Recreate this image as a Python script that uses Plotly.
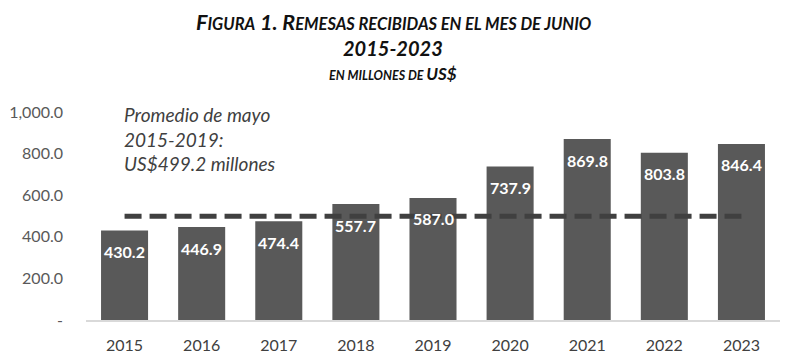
import plotly.graph_objects as go

years = ["2015", "2016", "2017", "2018", "2019", "2020", "2021", "2022", "2023"]
values = [430.2, 446.9, 474.4, 557.7, 587.0, 737.9, 869.8, 803.8, 846.4]
average = 499.2
ytick_vals = [0, 200, 400, 600, 800, 1000]
ytick_text = ["-", "200.0", "400.0", "600.0", "800.0", "1,000.0"]

FONT = "Lato"
GRAY = "#595959"

fig = go.Figure()
fig.add_trace(go.Bar(
    x=years, y=values,
    marker=dict(color=GRAY, line=dict(width=0)),
    hoverinfo="x+y",
))
fig.add_trace(go.Scatter(
    x=[years[0], years[-1]], y=[average, average],
    mode="lines",
    line=dict(color="#404040", width=5, dash="17px,8px"),
    hoverinfo="skip",
))
# category axis: annotations use category index
for i, v in enumerate(values):
    fig.add_annotation(x=i, y=v, text=f"<b>{v:.1f}</b>", showarrow=False,
                       yanchor="middle", yshift=-21,
                       font=dict(family=FONT, size=16, color="white"))

def sc(big, small, bs, ss):
    return f"<span style='font-size:{bs}px'>{big}</span><span style='font-size:{ss}px'>{small}</span>"

t1 = (sc("F", "IGURA", 21.5, 16.5) + "<span style='font-size:21.5px'> 1. </span>"
      + sc("R", "EMESAS RECIBIDAS EN EL MES DE JUNIO", 21.5, 16.5))
fig.add_annotation(text=f"<b><i>{t1}</i></b>", xref="paper", yref="paper",
                   x=0.5, y=1, xshift=-40, yshift=90, yanchor="middle", showarrow=False,
                   font=dict(family=FONT, size=21, color="#111111"))
fig.add_annotation(text="<b><i>2015-2023</i></b>", xref="paper", yref="paper",
                   x=0.5, y=1, xshift=-40, yshift=64, yanchor="middle", showarrow=False,
                   font=dict(family=FONT, size=20, color="#111111"))
t3 = "<span style='font-size:12.5px'>EN MILLONES DE </span><span style='font-size:17px'>US$</span>"
fig.add_annotation(text=f"<b><i>{t3}</i></b>", xref="paper", yref="paper",
                   x=0.5, y=1, xshift=-40, yshift=39, yanchor="middle", showarrow=False,
                   font=dict(family=FONT, size=17, color="#111111"))
fig.add_annotation(text="<i>Promedio de mayo<br>2015-2019:<br>US$499.2 millones</i>",
                   xref="paper", yref="paper", x=0, y=1, xshift=36, yshift=11,
                   xanchor="left", yanchor="top", align="left", showarrow=False,
                   font=dict(family=FONT, size=19, color="#404040"))

fig.update_layout(
    width=805, height=364,
    margin=dict(l=78, r=33, t=104, b=52),
    plot_bgcolor="white", paper_bgcolor="white",
    showlegend=False, bargap=0.39,
    font=dict(family=FONT),
)
fig.update_yaxes(range=[0, 1000], tickvals=ytick_vals, ticktext=ytick_text,
                 showgrid=False, zeroline=False, showline=False, automargin=False,
                 tickfont=dict(family=FONT, size=16, color=GRAY), ticklabelstandoff=22)
fig.update_xaxes(type="category", showgrid=False, showline=True, linecolor="#d9d9d9",
                 linewidth=2, automargin=False,
                 tickfont=dict(family=FONT, size=16, color="#404040"), ticklabelstandoff=10)

fig.write_html("out.html")
